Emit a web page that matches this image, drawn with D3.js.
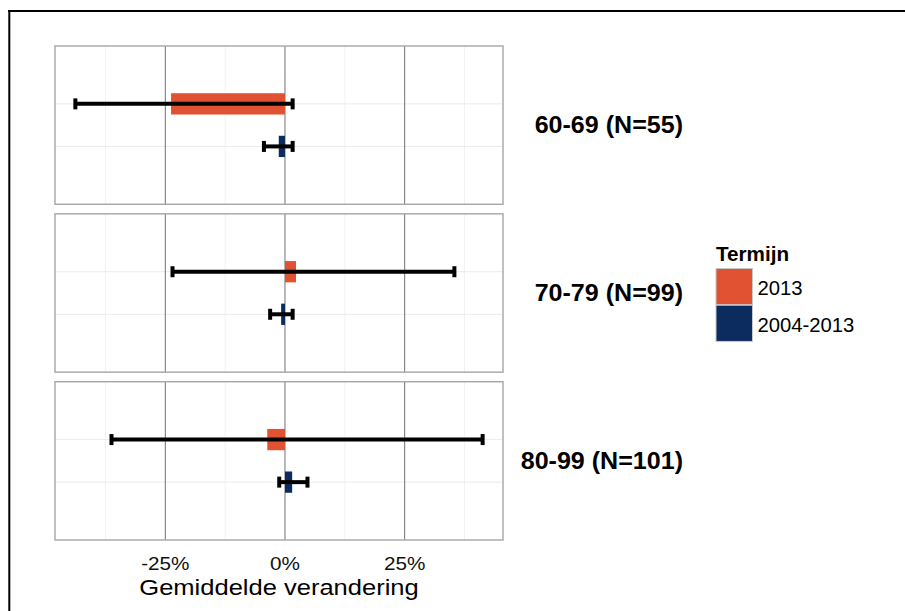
<!DOCTYPE html>
<html><head><meta charset="utf-8">
<script src="https://cdn.jsdelivr.net/npm/d3@7"></script>
<style>body{margin:0;background:#fff}svg{display:block;font-family:"Liberation Sans",Arial,sans-serif}</style>
</head><body><svg id="c" width="905" height="611"></svg>
<script>
const groups = ["60-69 (N=55)", "70-79 (N=99)", "80-99 (N=101)"];
const terms = ["2013", "2004-2013"];
const mean2013 = [-0.238, 0.023, -0.037];
const lo2013 = [-0.438, -0.235, -0.3625];
const hi2013 = [0.016, 0.354, 0.413];
const meanLong = [-0.013, -0.008, 0.015];
const loLong = [-0.044, -0.031, -0.012];
const hiLong = [0.016, 0.016, 0.047];
const xTicks = [-0.25, 0, 0.25];
const xMinor = [-0.375, -0.125, 0.125, 0.375];
const tickLabels = ["-25%", "0%", "25%"];
const colors = ["#E05231", "#0C2B5E"];

const svg = d3.select("#c");
function txt(sel, x, y, size, sx, s, opts) {
  opts = opts || {};
  const t = sel.append("text").attr("transform", `translate(${x},${y}) scale(${sx},1)`)
    .attr("font-size", size).attr("fill", opts.fill || "#000")
    .attr("text-anchor", opts.anchor || "start").text(s);
  if (opts.bold) t.attr("font-weight", "bold");
  return t;
}
// outer frame
svg.append("line").attr("x1",8).attr("x2",905).attr("y1",11).attr("y2",11).attr("stroke","#000").attr("stroke-width",2);
svg.append("line").attr("x1",9.3).attr("x2",9.3).attr("y1",10).attr("y2",611).attr("stroke","#000").attr("stroke-width",2);

const rows = [];
groups.forEach((g,i)=>{
  rows.push({g, term:terms[0], v:mean2013[i], lo:lo2013[i], hi:hi2013[i]});
  rows.push({g, term:terms[1], v:meanLong[i], lo:loLong[i], hi:hiLong[i]});
});
const mn = d3.min(rows, d=>Math.min(d.lo,d.v)), mx = d3.max(rows, d=>Math.max(d.hi,d.v));
const pad = (mx-mn)*0.05;
const x = d3.scaleLinear().domain([mn-pad, mx+pad]).range([55, 503]);

const panelTop = d3.scaleBand().domain(groups).range([46, 540]).paddingInner(0.057);
const pH = panelTop.bandwidth();
const y = d3.scalePoint().domain(terms).range([0, pH]).padding(1.36);
const barH = y.step()*0.5;

groups.forEach((g,i)=>{
  const p = svg.append("g").attr("transform",`translate(0,${panelTop(g)})`);
  p.append("rect").attr("x",55).attr("y",0).attr("width",448).attr("height",pH).attr("fill","#fff");
  p.selectAll(".mn").data(xMinor).join("line").attr("x1",d=>x(d)).attr("x2",d=>x(d)).attr("y1",0).attr("y2",pH).attr("stroke","#f2f2f2").attr("stroke-width",1);
  p.selectAll(".hg").data(terms).join("line").attr("x1",55).attr("x2",503).attr("y1",d=>y(d)).attr("y2",d=>y(d)).attr("stroke","#ebebeb").attr("stroke-width",1);
  p.selectAll(".mj").data(xTicks).join("line").attr("x1",d=>x(d)).attr("x2",d=>x(d)).attr("y1",0).attr("y2",pH).attr("stroke","#7f7f7f").attr("stroke-width",1.1);
  const data = rows.filter(r=>r.g===g);
  p.selectAll(".bar").data(data).join("rect")
    .attr("x",d=>x(Math.min(0,d.v))).attr("width",d=>Math.abs(x(d.v)-x(0)))
    .attr("y",d=>y(d.term)-barH/2).attr("height",barH)
    .attr("fill",d=>colors[terms.indexOf(d.term)]);
  const eb = p.selectAll(".eb").data(data).join("g");
  eb.append("line").attr("x1",d=>x(d.lo)).attr("x2",d=>x(d.hi)).attr("y1",d=>y(d.term)).attr("y2",d=>y(d.term)).attr("stroke","#000").attr("stroke-width",4);
  eb.append("line").attr("x1",d=>x(d.lo)).attr("x2",d=>x(d.lo)).attr("y1",d=>y(d.term)-5.5).attr("y2",d=>y(d.term)+5.5).attr("stroke","#000").attr("stroke-width",4);
  eb.append("line").attr("x1",d=>x(d.hi)).attr("x2",d=>x(d.hi)).attr("y1",d=>y(d.term)-5.5).attr("y2",d=>y(d.term)+5.5).attr("stroke","#000").attr("stroke-width",4);
  p.append("rect").attr("x",55).attr("y",0).attr("width",448).attr("height",pH).attr("fill","none").attr("stroke","#a6a6a6").attr("stroke-width",1.4);
  txt(p, 683, pH/2+8.3, 23, 1.09, g, {anchor:"end", bold:true});
});

// x axis labels
xTicks.forEach((d,i)=>txt(svg, x(d), 570, 18.5, 1.12, tickLabels[i], {anchor:"middle", fill:"#111"}));
txt(svg, 279, 594.5, 22.5, 1.135, "Gemiddelde verandering", {anchor:"middle"});

// legend
const lg = svg.append("g");
txt(lg, 716, 260.5, 19.5, 1.06, "Termijn", {bold:true});
terms.forEach((t,i)=>{
  lg.append("rect").attr("x",716).attr("y",268.5+i*36.7).attr("width",36.5).attr("height",36.2).attr("fill",colors[i]).attr("stroke","#c8c8c8").attr("stroke-width",1);
  txt(lg, 757.5, 294.5+i*37, 19.5, 1.04, t);
});
</script></body></html>
